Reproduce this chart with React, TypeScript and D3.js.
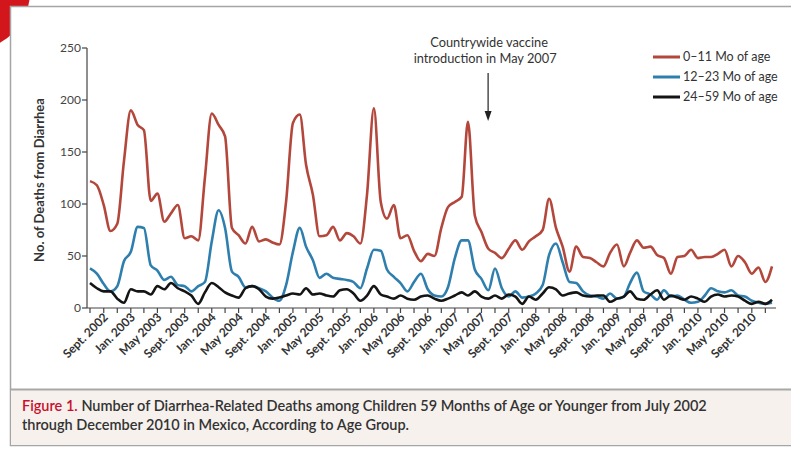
import React from "react";
import * as d3 from "d3";

// monthly deaths, July 2002 .. December 2010
const infants = [
  122, 118, 99, 74, 81, 141, 190, 176, 171, 103, 110, 83, 91, 99, 67, 69, 65, 125, 187, 176,
  165, 77, 70, 62, 78, 64, 66, 63, 61, 102, 178, 186, 138, 109, 69, 70, 78, 65, 72, 69,
  62, 109, 192, 102, 86, 99, 67, 70, 55, 45, 52, 50, 77, 97, 102, 107, 179, 89, 73, 57,
  53, 48, 57, 65, 56, 64, 69, 75, 105, 77, 59, 35, 59, 49, 48, 44, 40, 53, 61, 40,
  53, 65, 58, 59, 51, 48, 33, 49, 50, 56, 48, 49, 49, 52, 56, 40, 50, 44, 33, 39,
  25, 40,
];
const toddlers = [
  38, 33, 23, 16, 21, 45, 54, 78, 77, 41, 36, 27, 30, 22, 21, 16, 21, 25, 64, 94,
  77, 35, 30, 20, 21, 19, 16, 10, 7, 22, 54, 77, 59, 46, 29, 33, 29, 28, 27, 25,
  19, 38, 56, 55, 37, 30, 24, 16, 25, 33, 18, 12, 11, 20, 48, 65, 65, 37, 28, 17,
  38, 19, 11, 16, 10, 11, 14, 22, 51, 62, 44, 25, 24, 16, 12, 11, 9, 14, 9, 11,
  24, 34, 16, 13, 8, 17, 11, 12, 8, 5, 6, 12, 19, 16, 15, 17, 12, 11, 7, 5,
  4, 5,
];
const older = [
  24, 19, 16, 16, 9, 5, 18, 16, 16, 13, 21, 18, 24, 19, 16, 12, 4, 15, 24, 20,
  15, 12, 10, 19, 21, 18, 11, 9, 10, 12, 14, 13, 19, 13, 14, 12, 11, 17, 18, 14,
  7, 12, 21, 13, 11, 9, 12, 9, 8, 11, 12, 9, 7, 9, 12, 15, 12, 16, 11, 9,
  12, 9, 13, 11, 4, 11, 8, 14, 20, 18, 12, 14, 15, 12, 11, 12, 12, 6, 9, 11,
  16, 9, 8, 13, 17, 8, 12, 10, 8, 11, 9, 6, 11, 13, 11, 12, 11, 7, 4, 6,
  4, 8,
];
const seriesNames = ["0\u201311 Mo of age", "12\u201323 Mo of age", "24\u201359 Mo of age"];
const seriesColors = ["#b3473b", "#2f7fae", "#141414"];
const yTicks = [0, 50, 100, 150, 200, 250];
const monthAbbr = ["Jan.", "", "", "", "May", "", "", "", "Sept.", "", "", ""];

const start = new Date(2002, 6, 1);
const end = new Date(2010, 11, 1);
const months = d3.timeMonth.range(start, d3.timeMonth.offset(end, 1));

const font = "Lato, 'Open Sans', sans-serif";

export default function App() {
  const x = d3.scaleTime().domain([start, end]).range([90, 772]);
  const y = d3.scaleLinear().domain([0, 250]).range([308, 48]);
  const line = d3
    .line<number>()
    .x((_, i) => x(months[i]))
    .y((d) => y(d))
    .curve(d3.curveMonotoneX);

  const ticks = d3.timeMonth.every(2)!.range(start, d3.timeMonth.offset(end, 1));
  const labelled = ticks.filter((t) => t.getMonth() % 4 === 0);
  const series = [infants, toddlers, older];
  const arrowX = x(new Date(2007, 4, 31));

  return (
    <svg
      width={791}
      height={454}
      style={{ position: "absolute", left: 0, top: 0, background: "#fff" }}
      fontFamily={font}
    >
      <circle cx={-28} cy={-8} r={58} fill="#d3161c" />
      <rect x={10.5} y={6.5} width={800} height={439} fill="#fff" stroke="#a5a5a5" strokeWidth={1.5} />
      <rect x={11} y={390} width={800} height={55} fill="#f6f1ed" />
      <line x1={11} x2={791} y1={389.5} y2={389.5} stroke="#a8a8a8" strokeWidth={2} />

      {/* y axis */}
      <line x1={87} x2={87} y1={y(250)} y2={y(0)} stroke="#444" strokeWidth={1.2} />
      {yTicks.map((t) => (
        <g key={t} transform={`translate(87,${y(t)})`}>
          <line x1={-5} x2={0} stroke="#444" strokeWidth={1.2} />
          <text x={-6} dy="0.35em" textAnchor="end" fontSize={12} fill="#444">
            {t}
          </text>
        </g>
      ))}
      <text
        transform={`translate(44,${y(125) + 2}) rotate(-90)`}
        textAnchor="middle"
        fontSize={13}
        fontWeight={700}
        fill="#333"
      >
        No. of Deaths from Diarrhea
      </text>

      {/* x axis */}
      <line x1={87} x2={776} y1={y(0)} y2={y(0)} stroke="#444" strokeWidth={1.2} />
      {ticks.map((t) => (
        <line key={+t} x1={x(t)} x2={x(t)} y1={y(0)} y2={y(0) + 5} stroke="#444" strokeWidth={1.2} />
      ))}
      {labelled.map((t) => (
        <text
          key={+t}
          transform={`translate(${x(t) + 5},${y(0) + 10}) rotate(-45)`}
          textAnchor="end"
          fontSize={12}
          fontWeight={700}
          fill="#333"
        >
          {`${monthAbbr[t.getMonth()]} ${t.getFullYear()}`}
        </text>
      ))}

      {/* lines */}
      {series.map((s, i) => (
        <path
          key={i}
          d={line(s) ?? ""}
          fill="none"
          stroke={seriesColors[i]}
          strokeWidth={2.6}
          strokeLinejoin="round"
        />
      ))}

      {/* annotation */}
      <text x={arrowX + 1} y={47} textAnchor="middle" fontSize={12.8} fill="#333">
        Countrywide vaccine
      </text>
      <text x={arrowX - 3} y={63} textAnchor="middle" fontSize={12.8} fill="#333">
        introduction in May 2007
      </text>
      <line x1={arrowX} x2={arrowX} y1={73} y2={112} stroke="#222" strokeWidth={1.2} />
      <path d={`M${arrowX - 3.5},111 L${arrowX + 3.5},111 L${arrowX},121 Z`} fill="#222" />

      {/* legend */}
      {seriesNames.map((n, i) => (
        <g key={n} transform={`translate(653,${57 + i * 20})`}>
          <line x1={0} x2={27} stroke={seriesColors[i]} strokeWidth={3} />
          <text x={30} dy="0.35em" fontSize={12.5} fill="#333">
            {n}
          </text>
        </g>
      ))}

      {/* caption */}
      <text x={22} y={411} fontSize={14.5} fontWeight={600} fill="#333">
        <tspan fill="#c8102e">Figure 1.</tspan> Number of Diarrhea-Related Deaths among Children 59
        Months of Age or Younger from July 2002
      </text>
      <text x={22} y={430} fontSize={14.5} fontWeight={600} fill="#333">
        through December 2010 in Mexico, According to Age Group.
      </text>
    </svg>
  );
}
